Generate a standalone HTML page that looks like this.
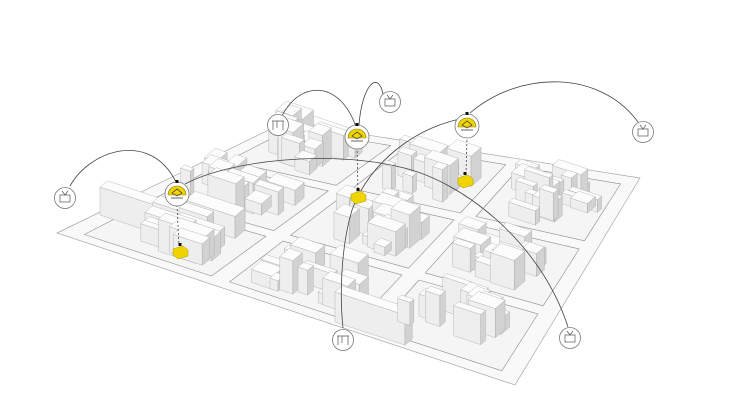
<!DOCTYPE html>
<html><head><meta charset="utf-8">
<style>html,body{margin:0;padding:0;background:#fff;}svg{display:block}</style>
</head><body>
<svg id="s" width="730" height="411" viewBox="0 0 730 411" xmlns="http://www.w3.org/2000/svg">
<rect width="730" height="411" fill="#fff"/>
<polygon points="57,233 285,122 640,178 515,385" fill="#f9f9f9" stroke="#a8a8a8" stroke-width="0.7"/>
<g id="blocks"></g>
<g id="bld"></g>
<g id="ov" fill="none" stroke="#444" stroke-width="0.8">
  <path d="M70,186 C90,150 150,130 176,182"/>
  <path d="M282,116 C300,80 340,80 356,127"/>
  <path d="M383,94 C378,70 362,85 359,125"/>
  <path d="M470,113 C520,70 600,70 638,122"/>
  <path d="M185,184 C230,160 330,150 400,167 C460,180 540,240 568,327"/>
  <path d="M466,118 C420,125 370,160 352,210 C340,250 340,300 343,328"/>
  <path d="M177,205 L179,246" stroke-dasharray="2,2"/>
  <path d="M357,147 L358,191" stroke-dasharray="2,2"/>
  <path d="M467,136 L466,174" stroke-dasharray="2,2"/>
</g>
<g id="icons"></g>
</svg>
<script>
(function(){
var NS="http://www.w3.org/2000/svg";
function el(p,t,a){var e=document.createElementNS(NS,t);for(var k in a)e.setAttribute(k,a[k]);p.appendChild(e);return e;}
var L=[57,233],B=[515,385],R=[640,178],T=[285,122];
function P(s,t){var x=(1-s)*(1-t)*L[0]+s*(1-t)*B[0]+s*t*R[0]+(1-s)*t*T[0];
var y=(1-s)*(1-t)*L[1]+s*(1-t)*B[1]+s*t*R[1]+(1-s)*t*T[1];return [x,y];}
var seed=7;function rnd(){seed=(seed*16807)%2147483647;return seed/2147483647;}
var u=[1,0.33],v=[0.72,-0.62];
var blocks=document.getElementById('blocks'),bld=document.getElementById('bld');
var boxes=[];
var bands=[[0.04,0.32],[0.36,0.64],[0.68,0.96]];
for(var i=0;i<3;i++)for(var j=0;j<3;j++){
 var s0=bands[i][0],s1=bands[i][1],t0=bands[j][0],t1=bands[j][1];
 var pts=[P(s0,t0),P(s1,t0),P(s1,t1),P(s0,t1)].map(function(p){return p[0].toFixed(1)+','+p[1].toFixed(1)}).join(' ');
 el(blocks,'polygon',{points:pts,fill:'#f5f5f5',stroke:'#8c8c8c','stroke-width':0.6,'stroke-linejoin':'round'});
 var n=12+Math.floor(rnd()*6);
 for(var k=0;k<n;k++){
  var s=s0+0.02+rnd()*(s1-s0-0.1), t=t0+0.03+rnd()*(t1-t0-0.12);
  var p=P(s,t);
  var a=8+rnd()*22,b=5+rnd()*10,h=8+rnd()*26;
  if(i==0&&j==0){a+=15;}
  boxes.push([p[0],p[1],a,b,h]);
 }
}
boxes.push([100,215,70,10,28]);boxes.push([185,222,50,14,22]);
boxes.push([300,140,55,10,20]);boxes.push([335,322,70,10,30]);
boxes.sort(function(A,C){return (A[1]-A[3]*0.3)-(C[1]-C[3]*0.3);});
boxes.forEach(function(q){
 var x=q[0],y=q[1],a=q[2],b=q[3],h=q[4];
 var b0=[x,y],b1=[x+a*u[0],y+a*u[1]],b2=[b1[0]+b*v[0],b1[1]+b*v[1]],b3=[x+b*v[0],y+b*v[1]];
 function up(p){return [p[0],p[1]-h];}
 function poly(arr,f){el(bld,'polygon',{points:arr.map(function(p){return p[0].toFixed(1)+','+p[1].toFixed(1)}).join(' '),fill:f,stroke:'#a0a0a0','stroke-width':0.35,'stroke-linejoin':'round'});}
 poly([b0,b1,up(b1),up(b0)],'#eeeeee');
 poly([b1,b2,up(b2),up(b1)],'#d2d2d2');
 poly([up(b0),up(b1),up(b2),up(b3)],'#fcfcfc');
});
var ic=document.getElementById('icons');
function yb(x,y){el(ic,'polygon',{points:(x-7)+','+(y-3)+' '+(x+3)+','+(y-6)+' '+(x+8)+','+(y-2)+' '+(x+8)+','+(y+4)+' '+(x-2)+','+(y+7)+' '+(x-7)+','+(y+3),fill:'#f0d400',stroke:'#b09a00','stroke-width':0.5});
 el(ic,'rect',{x:x-1.5,y:y-9,width:3,height:3,fill:'#111'});}
yb(180,252);yb(358,197);yb(465,181);
function yc(x,y){el(ic,'circle',{cx:x,cy:y,r:12,fill:'#fff',stroke:'#777','stroke-width':0.8});
 el(ic,'path',{d:'M'+(x-9)+','+(y+1)+' A9,9 0 0 1 '+(x+9)+','+(y+1)+' Z',fill:'#f0d400',stroke:'#8a7a00','stroke-width':0.6});
 el(ic,'path',{d:'M'+(x-5)+','+(y-1)+' L'+x+','+(y-5)+' L'+(x+5)+','+(y-1)+' L'+x+','+(y+2)+' Z M'+(x-6)+','+(y+4)+' L'+(x+6)+','+(y+4),fill:'none',stroke:'#333','stroke-width':0.7});
 el(ic,'rect',{x:x-1.5,y:y-14,width:3,height:3,fill:'#111'});}
yc(177,194);yc(357,137);yc(467,126);
function tv(x,y){el(ic,'circle',{cx:x,cy:y,r:10.5,fill:'#fff',stroke:'#777','stroke-width':0.8});
 el(ic,'rect',{x:x-5,y:y-3,width:10,height:7,fill:'none',stroke:'#555','stroke-width':0.7});
 el(ic,'path',{d:'M'+(x-3)+','+(y-7)+' L'+x+','+(y-3)+' L'+(x+3)+','+(y-7),fill:'none',stroke:'#555','stroke-width':0.7});}
tv(65,198);tv(390,102);tv(643,132);tv(570,338);
function tb(x,y){el(ic,'circle',{cx:x,cy:y,r:10.5,fill:'#fff',stroke:'#777','stroke-width':0.8});
 el(ic,'path',{d:'M'+(x-6)+','+(y-4)+' L'+(x+6)+','+(y-4)+' M'+(x-5)+','+(y-4)+' L'+(x-5)+','+(y+5)+' M'+(x+5)+','+(y-4)+' L'+(x+5)+','+(y+5)+' M'+(x-1)+','+(y-4)+' L'+(x-1)+','+(y+3),fill:'none',stroke:'#555','stroke-width':0.7});}
tb(278,125);tb(343,340);
})();
</script>
</body></html>
